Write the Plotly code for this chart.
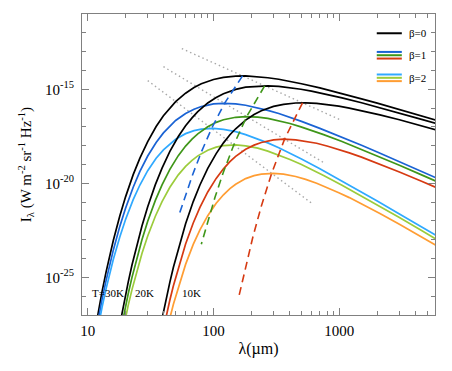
import plotly.graph_objects as go

# Длины волн (мкм) для каждой температуры
lam_30 = [11, 12, 13, 14, 15, 16, 18, 20, 23, 26, 30, 35, 40, 45, 50, 60, 70, 80, 100, 120,
          150, 180, 220, 270, 330, 400, 500, 700, 1000, 1500, 2000, 3000, 4000, 6000]
lam_20 = [18, 19.5, 21, 22.5, 24, 27, 30, 34.5, 39, 45, 52.5, 60, 67.5, 75, 90, 105, 120, 150, 180, 225,
          270, 330, 405, 495, 600, 750, 1050, 1500, 2250, 3000, 4500, 6000, 9000]
lam_10 = [39, 42, 45, 48, 54, 60, 69, 78, 90, 105, 120, 135, 150, 180, 210, 240, 300, 360, 450, 540,
          660, 810, 990, 1200, 1500, 2100, 3000, 4500, 6000, 9000]

# log10 I_lambda (W m-2 sr-1 Hz-1)
i30_b0 = [-28.46, -27.00, -25.77, -24.72, -23.82, -23.03, -21.74, -20.72, -19.54, -18.66, -17.78, -16.98,
          -16.41, -15.99, -15.66, -15.21, -14.91, -14.71, -14.48, -14.37, -14.30, -14.29, -14.32, -14.39,
          -14.47, -14.57, -14.71, -14.93, -15.19, -15.51, -15.74, -16.07, -16.31, -16.66]
i30_b1 = [-28.80, -27.38, -26.18, -25.17, -24.29, -23.54, -22.29, -21.32, -20.21, -19.37, -18.55, -17.83,
          -17.32, -16.94, -16.66, -16.29, -16.06, -15.92, -15.78, -15.75, -15.78, -15.85, -15.97, -16.12,
          -16.29, -16.48, -16.71, -17.08, -17.49, -17.98, -18.34, -18.85, -19.22, -19.74]
i30_b2 = [-29.15, -27.76, -26.60, -25.61, -24.77, -24.04, -22.85, -21.92, -20.87, -20.09, -19.33, -18.67,
          -18.22, -17.90, -17.66, -17.36, -17.20, -17.12, -17.08, -17.13, -17.25, -17.41, -17.61, -17.85,
          -18.11, -18.38, -18.71, -19.22, -19.79, -20.46, -20.94, -21.63, -22.12, -22.81]

i20_b0 = [-27.52, -26.29, -25.25, -24.34, -23.56, -22.27, -21.25, -20.07, -19.19, -18.30, -17.51, -16.94,
          -16.52, -16.19, -15.73, -15.44, -15.24, -15.01, -14.89, -14.83, -14.82, -14.85, -14.91, -15.00,
          -15.10, -15.23, -15.46, -15.72, -16.03, -16.27, -16.60, -16.84, -17.18]
i20_b1 = [-28.08, -26.88, -25.87, -25.00, -24.24, -23.00, -22.02, -20.91, -20.08, -19.26, -18.53, -18.02,
          -17.65, -17.37, -16.99, -16.76, -16.62, -16.49, -16.45, -16.48, -16.55, -16.67, -16.82, -17.00,
          -17.18, -17.41, -17.78, -18.20, -18.69, -19.04, -19.55, -19.92, -20.44]
i20_b2 = [-28.64, -27.48, -26.49, -25.65, -24.92, -23.73, -22.80, -21.75, -20.97, -20.21, -19.55, -19.10,
          -18.78, -18.54, -18.24, -18.08, -18.00, -17.96, -18.01, -18.13, -18.29, -18.49, -18.73, -18.99,
          -19.26, -19.59, -20.10, -20.67, -21.34, -21.82, -22.51, -23.00, -23.69]

i10_b0 = [-27.20, -26.15, -25.25, -24.46, -23.17, -22.15, -20.97, -20.09, -19.21, -18.42, -17.85, -17.42,
          -17.10, -16.64, -16.34, -16.14, -15.91, -15.80, -15.73, -15.72, -15.75, -15.82, -15.90, -16.00,
          -16.14, -16.36, -16.62, -16.94, -17.17, -17.50]
i10_b1 = [-28.09, -27.07, -26.20, -25.45, -24.20, -23.23, -22.11, -21.28, -20.46, -19.74, -19.23, -18.85,
          -18.57, -18.19, -17.97, -17.83, -17.69, -17.65, -17.69, -17.76, -17.87, -18.03, -18.20, -18.38,
          -18.61, -18.98, -19.40, -19.89, -20.25, -20.76]
i10_b2 = [-28.98, -28.00, -27.16, -26.43, -25.24, -24.31, -23.25, -22.47, -21.72, -21.06, -20.61, -20.28,
          -20.05, -19.75, -19.59, -19.51, -19.47, -19.51, -19.64, -19.79, -20.00, -20.24, -20.50, -20.76,
          -21.09, -21.61, -22.18, -22.84, -23.33, -24.01]

# Положение максимумов при изменении beta (пунктир)
peak30_lam = [170.0, 122.3, 96.6, 80.1, 68.6, 60.0, 53.3]
peak30_i = [-14.29, -15.75, -17.08, -18.33, -19.50, -20.60, -21.66]
peak20_lam = [255.0, 183.5, 144.9, 120.2, 102.9, 90.0, 80.0]
peak20_i = [-14.82, -16.45, -17.96, -19.38, -20.73, -22.01, -23.24]
peak10_lam = [510.0, 366.9, 289.8, 240.4, 205.7, 179.9, 159.9]
peak10_i = [-15.72, -17.65, -19.47, -21.19, -22.84, -24.42, -25.95]

# Положение максимумов при изменении T (точки)
dot_b0_lam = [56, 1030]
dot_b0_i = [-12.84, -16.64]
dot_b1_lam = [40, 750]
dot_b1_i = [-13.80, -18.90]
dot_b2_lam = [30, 600]
dot_b2_i = [-14.54, -21.05]

# Подписи осей
x_ticks = [10, 100, 1000]
x_labels = ['10', '100', '1000']
x_minor = [20, 30, 40, 50, 60, 70, 80, 90, 200, 300, 400, 500, 600, 700, 800, 900, 2000, 3000, 4000, 5000]
y_ticks = [-25, -20, -15]
y_labels = ['10<sup>-25</sup>', '10<sup>-20</sup>', '10<sup>-15</sup>']
temp_labels = ['T=30K', '20K', '10K']

# Цвета
c_blue, c_green, c_red = '#1a63d4', '#3f9619', '#d63a12'
c_lblue, c_lgreen, c_orange = '#2fa9ff', '#9ccc3c', '#ff9d33'
font = 'Liberation Serif, Times New Roman, serif'

fig = go.Figure()

# Точечные линии (серые)
for lx, ly in [(dot_b0_lam, dot_b0_i), (dot_b1_lam, dot_b1_i), (dot_b2_lam, dot_b2_i)]:
    fig.add_trace(go.Scatter(x=lx, y=ly, mode='lines',
                             line=dict(color='#a8a8a8', width=1.4, dash='1.5px,3px')))

# Кривые
curves = [
    (lam_30, i30_b0, 'black'), (lam_30, i30_b1, c_blue), (lam_30, i30_b2, c_lblue),
    (lam_20, i20_b0, 'black'), (lam_20, i20_b1, c_green), (lam_20, i20_b2, c_lgreen),
    (lam_10, i10_b0, 'black'), (lam_10, i10_b1, c_red), (lam_10, i10_b2, c_orange),
]
for lx, ly, col in curves:
    fig.add_trace(go.Scatter(x=lx, y=ly, mode='lines', line=dict(color=col, width=1.7)))

# Пунктир
for lx, ly, col in [(peak30_lam, peak30_i, c_blue), (peak20_lam, peak20_i, c_green), (peak10_lam, peak10_i, c_red)]:
    fig.add_trace(go.Scatter(x=lx, y=ly, mode='lines', line=dict(color=col, width=1.6, dash='8px,5px')))

# Легенда вручную
legend_rows = [(0.936, ['black']), (0.863, [c_blue, c_green, c_red]), (0.788, [c_lblue, c_lgreen, c_orange])]
legend_text = ['β=0', 'β=1', 'β=2']
step = 0.011
for (yc, cols), txt in zip(legend_rows, legend_text):
    for k, col in enumerate(cols):
        yy = yc + (len(cols) - 1) / 2 * step - k * step
        fig.add_shape(type='line', xref='paper', yref='paper', x0=0.835, x1=0.906, y0=yy, y1=yy,
                      line=dict(color=col, width=2))
    fig.add_annotation(xref='paper', yref='paper', x=0.92, y=yc, text=txt, showarrow=False,
                       xanchor='left', yanchor='middle', font=dict(family=font, size=11, color='black'))

# Подписи температур
for tx, txt in zip([1.016, 1.360, 1.736], temp_labels):
    fig.add_annotation(x=tx, y=-25.85, text=txt, showarrow=False, xanchor='left', yanchor='middle',
                       font=dict(family=font, size=11, color='black'))

# Страница сдвигает рисунок на 8px (отступ body), поэтому поля уменьшены
axis_col = '#808080'
fig.update_layout(
    width=444, height=363,
    margin=dict(l=74, r=17, t=6, b=56),
    paper_bgcolor='white', plot_bgcolor='white',
    showlegend=False,
    font=dict(family=font, color='black'),
    xaxis=dict(type='log', range=[0.955, 3.76], showgrid=False, zeroline=False, automargin=False,
               showline=True, linecolor=axis_col, linewidth=1, mirror='allticks',
               tickmode='array', tickvals=x_ticks, ticktext=x_labels,
               ticks='inside', ticklen=7, tickcolor=axis_col,
               minor=dict(tickmode='array', tickvals=x_minor, ticks='inside', ticklen=4, tickcolor=axis_col),
               tickfont=dict(size=15, family=font), ticklabelstandoff=2,
               title=dict(text='λ(µm)', font=dict(size=16, family=font), standoff=4)),
    yaxis=dict(range=[-27, -11], showgrid=False, zeroline=False, automargin=False,
               showline=True, linecolor=axis_col, linewidth=1, mirror='allticks',
               tickmode='array', tickvals=y_ticks, ticktext=y_labels,
               ticks='inside', ticklen=7, tickcolor=axis_col,
               minor=dict(tickmode='linear', tick0=0, dtick=1, ticks='inside', ticklen=4, tickcolor=axis_col),
               tickfont=dict(size=15, family=font), ticklabelstandoff=4,
               title=dict(text='I<sub>λ</sub> (W m<sup>-2</sup> sr<sup>-1</sup> Hz<sup>-1</sup>)',
                          font=dict(size=15, family=font), standoff=9)),
)

fig.write_html('out.html')
